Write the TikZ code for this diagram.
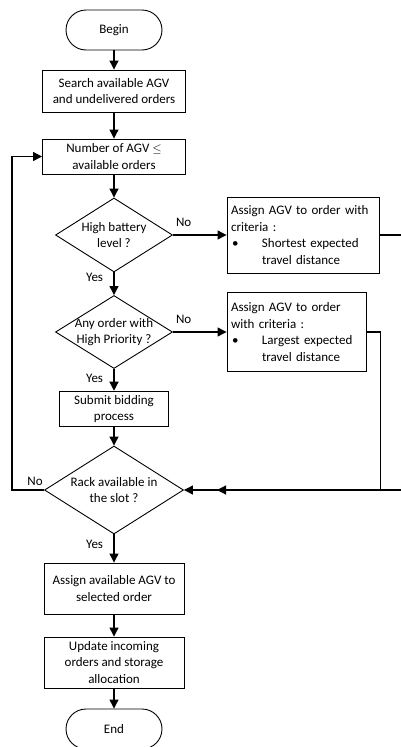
\documentclass[tikz,border=0pt]{standalone}
\usepackage{fontspec}
\setmainfont{Carlito}
\usetikzlibrary{arrows.meta,shapes.geometric}

\begin{document}
\begin{tikzpicture}[x=1pt, y=-1pt, >={Triangle[length=9pt,width=9pt]},
  font=\fontsize{13}{16.5}\selectfont,
  every box/.style={draw, line width=0.9pt, inner sep=4pt},
  terminal/.style={every box, rounded corners=20pt, minimum width=96pt, minimum height=40pt},
  process/.style={every box, align=center},
  criteria/.style={every box, align=left},
  decision/.style={draw, line width=0.9pt, diamond, inner sep=0pt},
  flow/.style={->, line width=1.2pt}]

\useasboundingbox (0,0) rectangle (401,747);

\node [terminal] (begin) at (114,30) {Begin};
\node [process, minimum width=143pt, minimum height=42pt] (search) at (114,91)
  {Search available AGV\\and undelivered orders};
\node [process, minimum width=143pt, minimum height=35pt] (number) at (114,156.5)
  {Number of AGV $\leq$\\available orders};

\node [decision, minimum width=117pt, minimum height=74pt] (battery) at (114,235) {};
\node [align=center] (battery-text) at (battery) {High battery\\level ?};
\node [decision, minimum width=117pt, minimum height=73pt] (priority) at (114,332) {};
\node [align=center] (priority-text) at (priority) {Any order with\\High Priority ?};

\node [criteria, text width=144pt, minimum height=76pt] (assign-short) at (303,235)
  {Assign AGV to order with\\criteria :\\\makebox[31pt][l]{\hspace{1pt}\textbullet}Shortest expected\\\hspace*{31pt}travel distance};
\node [criteria, text width=131pt, minimum height=79pt] (assign-long) at (296.5,332)
  {Assign AGV to order\\with criteria :\\\makebox[31pt][l]{\hspace{1pt}\textbullet}Largest expected\\\hspace*{31pt}travel distance};

\node [process, minimum width=109pt, minimum height=34pt] (submit) at (114,409)
  {Submit bidding\\process};
\node [decision, minimum width=139pt, minimum height=88pt] (rack) at (114,490) {};
\node [align=center] (rack-text) at (rack) {Rack available in\\the slot ?};

\node [process, minimum width=140pt, minimum height=51pt] (assignsel) at (114,588.5)
  {Assign available AGV to\\selected order};
\node [process, minimum width=140pt, minimum height=51pt] (update) at (114,662.5)
  {Update incoming\\orders and storage\\allocation};
\node [terminal] (end) at (114,729) {End};

\coordinate (merge) at (217,490);

\foreach \a/\b in {begin/search, search/number, number/battery, submit/rack, assignsel/update, update/end}
  \draw [flow] (\a) -- (\b);

\foreach \a/\b/\p in {battery/priority/0.2, priority/submit/0.42, rack/assignsel/0.36}
  \draw [flow] (\a) -- (\b) node [left, pos=\p, xshift=-7pt] (yes-\a) {Yes};

\draw [flow] (battery) -- (assign-short) node [above, pos=0.2, yshift=4pt] (no-battery) {No};
\draw [flow] (priority) -- (assign-long) node [above, pos=0.2, yshift=4pt] (no-priority) {No};

\draw [flow] (assign-short.east) -- ++(31,0) |- (rack.east);
\draw [flow] (assign-long.east) -- ++(14,0) |- (merge);

\draw [flow] (rack.west) -- ++(-32,0) node [above, pos=0.28] (no-rack) {No} |- (number.west);

\end{tikzpicture}
\end{document}
